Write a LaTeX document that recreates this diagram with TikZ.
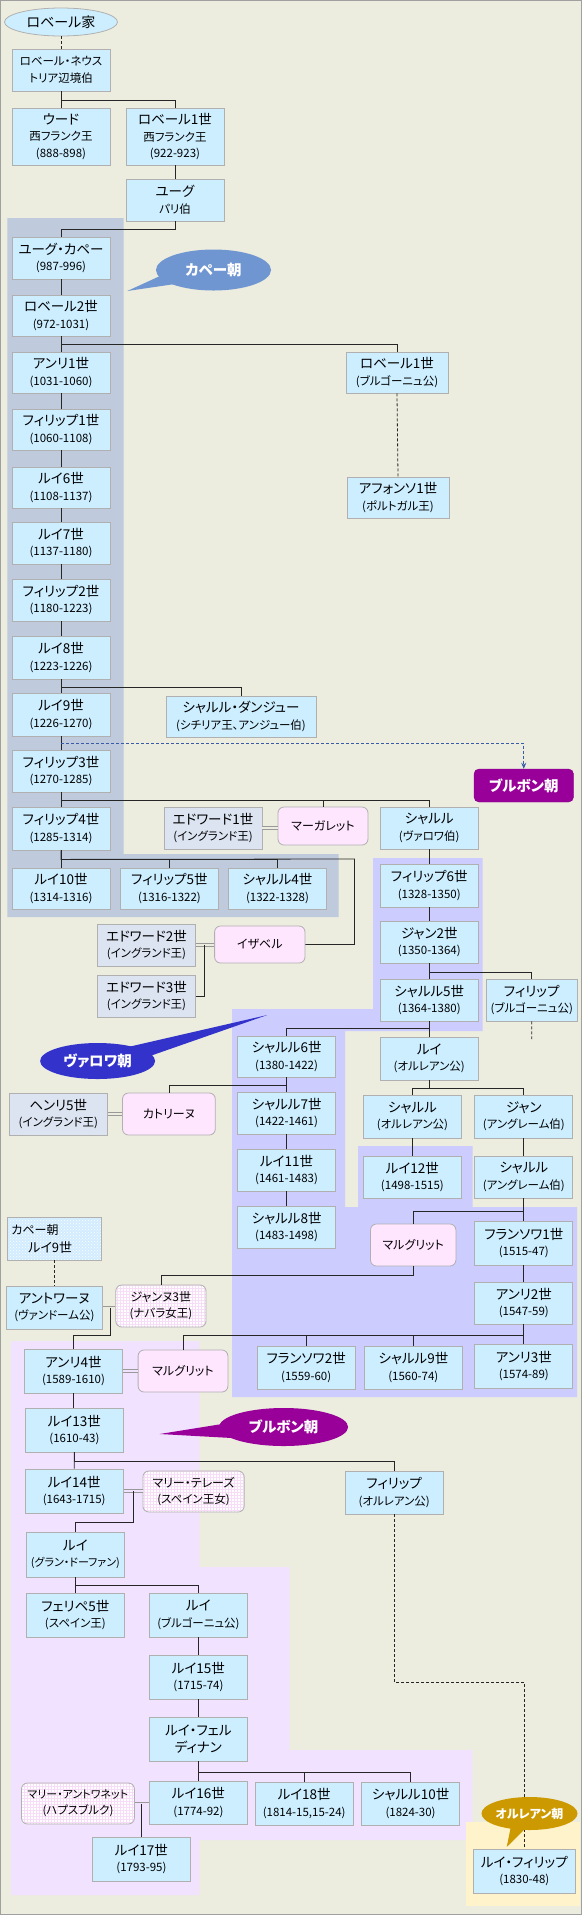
\documentclass[tikz,border=0pt]{standalone}
\usepackage{fontspec}
\setmainfont{Noto Sans CJK JP}[RawFeature=+palt]
\usetikzlibrary{shapes.geometric,arrows.meta,patterns}
\definecolor{bgc}{HTML}{ECECDF}
\definecolor{boxfill}{HTML}{CCEEFF}
\definecolor{boxline}{HTML}{B0B0B0}
\definecolor{engfill}{HTML}{DCE4F2}
\definecolor{wifefill}{HTML}{FFE6FF}
\definecolor{capetbg}{HTML}{BFCBDD}
\definecolor{valoisbg}{HTML}{CCCCFF}
\definecolor{bourbonbg}{HTML}{F1E3FF}
\definecolor{orleansbg}{HTML}{FFF3CC}
\definecolor{capetblue}{HTML}{7096D2}
\definecolor{valoisblue}{HTML}{3333CC}
\definecolor{bourbonc}{HTML}{990099}
\definecolor{orleansc}{HTML}{CC9900}
\definecolor{arrowblue}{HTML}{3A5CA8}
\definecolor{cpatfill}{HTML}{D2ECFF}
\definecolor{gridpink}{HTML}{F7DDF7}
\definecolor{framec}{HTML}{A0A0A0}
\newcommand\ssz{\fontsize{11.5}{16}\selectfont}
\newcommand\nd[7]{\pgfmathsetmacro\ndcx{(#3+#5)/2}\pgfmathsetmacro\ndcy{(#4+#6)/2}\pgfmathsetmacro\ndw{#5-#3}\pgfmathsetmacro\ndh{#6-#4}\node[#1,minimum width=\ndw pt,minimum height=\ndh pt] (#2) at (\ndcx,\ndcy) {#7};}
\begin{document}
\begin{tikzpicture}[x=1pt,y=-1pt,
  pb/.style={draw=boxline,fill=boxfill,line width=0.8pt,inner sep=0pt,align=center,font=\fontsize{13.5}{16.5}\selectfont},
  eng/.style={pb,fill=engfill},
  wife/.style={pb,fill=wifefill,rounded corners=6pt,font=\fontsize{12}{16}\selectfont},
  wifeg/.style={draw=boxline,line width=0.8pt,inner sep=0pt,align=center,rounded corners=6pt,font=\fontsize{12}{16}\selectfont,preaction={fill=white},pattern=grid,pattern color=gridpink},
  cpat/.style={draw=boxline,line width=0.8pt,inner xsep=4pt,inner ysep=0pt,align=left,text width=86pt,font=\fontsize{13}{18}\selectfont,preaction={fill=cpatfill},pattern=crosshatch dots,pattern color=white},
  dynbox/.style={fill=bourbonc,draw=bourbonc!85!black,rounded corners=5pt,inner sep=0pt,text=white,font=\bfseries\fontsize{14.5}{16}\selectfont},
  bubble/.style={ellipse,inner sep=0pt,text=white,font=\bfseries\fontsize{14.5}{16}\selectfont},
  tl/.style={draw=black!85,line width=0.8pt},
  dl/.style={draw=black!85,line width=0.8pt,dash pattern=on 3pt off 2pt},
  bdash/.style={draw=arrowblue,line width=0.8pt,dash pattern=on 3pt off 2pt,-{Stealth[length=6pt,width=5pt]}},
  marr/.style={draw=black!40,line width=0.7pt,double distance=2pt,double=bgc}]
\useasboundingbox (0,0) rectangle (582,1915);
\fill[bgc] (0,0) rectangle (582,1915);
% regions
\fill[capetbg] (7.4,218) -- (123.6,218) -- (123.6,854) -- (338.5,854) -- (338.5,917) -- (7.4,917) -- cycle;
\fill[valoisbg] (373.1,858) -- (482.6,858) -- (482.6,1031) -- (345.2,1031) -- (345.2,1207) -- (358.2,1207) -- (358.2,1146) -- (472.6,1146) -- (472.6,1207) -- (577.2,1207) -- (577.2,1397) -- (232,1397) -- (232,1009) -- (373.1,1009) -- cycle;
\fill[bourbonbg] (11.1,1341) -- (199.3,1341) -- (199.3,1567) -- (289.5,1567) -- (289.5,1750) -- (472.6,1750) -- (472.6,1840) -- (199.3,1840) -- (199.3,1895) -- (11.1,1895) -- cycle;
\fill[orleansbg] (465.9,1822) rectangle (580,1906);
% nodes
\node[ellipse,draw=boxline,fill=boxfill,line width=0.8pt,minimum width=113pt,minimum height=28pt,inner sep=0pt,font=\fontsize{14}{16}\selectfont] (house) at (61,22) {ロベール家};
\nd{pb}{rn}{12}{49}{110}{91}{\ssz ロベール・ネウス\\\ssz トリア辺境伯}
\nd{pb}{ud}{12}{108}{110}{165}{ウード\\\ssz 西フランク王\\\ssz (888-898)}
\nd{pb}{rf}{126}{108}{224}{165}{ロベール1世\\\ssz 西フランク王\\\ssz (922-923)}
\nd{pb}{hg}{126}{179}{224}{221}{ユーグ\\\ssz パリ伯}
\nd{pb}{hc}{12}{237}{110}{279}{ユーグ・カペー\\\ssz (987-996)}
\nd{pb}{r2}{12}{295}{110}{336}{ロベール2世\\\ssz (972-1031)}
\nd{pb}{h1}{12}{352}{110}{393}{アンリ1世\\\ssz (1031-1060)}
\nd{pb}{rb}{346}{352}{448}{393}{ロベール1世\\\ssz (ブルゴーニュ公)}
\nd{pb}{p1}{12}{409}{110}{450}{フィリップ1世\\\ssz (1060-1108)}
\nd{pb}{l6}{12}{467}{110}{508}{ルイ6世\\\ssz (1108-1137)}
\nd{pb}{af}{347}{477}{449}{518}{アフォンソ1世\\\ssz (ポルトガル王)}
\nd{pb}{l7}{12}{522}{110}{564}{ルイ7世\\\ssz (1137-1180)}
\nd{pb}{p2}{12}{579}{110}{621}{フィリップ2世\\\ssz (1180-1223)}
\nd{pb}{l8}{12}{636}{110}{679}{ルイ8世\\\ssz (1223-1226)}
\nd{pb}{l9}{12}{693}{110}{736}{ルイ9世\\\ssz (1226-1270)}
\nd{pb}{cd}{166}{696}{316}{737}{シャルル・ダンジュー\\\ssz (シチリア王、アンジュー伯)}
\nd{pb}{p3}{12}{750}{110}{792}{フィリップ3世\\\ssz (1270-1285)}
\nd{dynbox}{bb}{474}{769}{573.5}{802}{ブルボン朝}
\nd{pb}{p4}{12}{807}{110}{850}{フィリップ4世\\\ssz (1285-1314)}
\nd{eng}{e1}{164}{807}{262}{849}{エドワード1世\\\ssz (イングランド王)}
\nd{wife}{mg1}{278}{807}{368}{845}{マーガレット}
\nd{pb}{cv}{380}{807}{478.5}{849}{シャルル\\\ssz (ヴァロワ伯)}
\nd{pb}{l10}{12}{868}{110}{909}{ルイ10世\\\ssz (1314-1316)}
\nd{pb}{p5}{120.6}{868}{218.3}{909}{フィリップ5世\\\ssz (1316-1322)}
\nd{pb}{c4}{228.7}{868}{326.3}{909}{シャルル4世\\\ssz (1322-1328)}
\nd{pb}{p6}{380}{864}{478.5}{907}{フィリップ6世\\\ssz (1328-1350)}
\nd{eng}{e2}{97.3}{924}{195.6}{966}{エドワード2世\\\ssz (イングランド王)}
\nd{wife}{is}{214.6}{926}{305}{963}{イザベル}
\nd{pb}{j2}{380}{921}{478.5}{963}{ジャン2世\\\ssz (1350-1364)}
\nd{eng}{e3}{97.3}{975}{195.6}{1017}{エドワード3世\\\ssz (イングランド王)}
\nd{pb}{c5}{380}{979}{478.5}{1021}{シャルル5世\\\ssz (1364-1380)}
\nd{pb}{pbg}{486.3}{979}{577.2}{1021}{フィリップ\\\ssz (ブルゴーニュ公)}
\nd{pb}{c6}{237.6}{1036}{335.6}{1077}{シャルル6世\\\ssz (1380-1422)}
\nd{pb}{lo}{380}{1037}{478.5}{1080}{ルイ\\\ssz (オルレアン公)}
\nd{eng}{h5}{9.3}{1093}{107.3}{1135}{ヘンリ5世\\\ssz (イングランド王)}
\nd{wife}{ct}{122.5}{1093}{215.3}{1135}{カトリーヌ}
\nd{pb}{c7}{237.6}{1092}{335.6}{1134}{シャルル7世\\\ssz (1422-1461)}
\nd{pb}{so}{363.4}{1095}{461.4}{1138}{シャルル\\\ssz (オルレアン公)}
\nd{pb}{ja}{474.8}{1095}{572.8}{1138}{ジャン\\\ssz (アングレーム伯)}
\nd{pb}{l11}{237.6}{1149}{335.6}{1191}{ルイ11世\\\ssz (1461-1483)}
\nd{pb}{l12}{363.4}{1156}{461.4}{1198}{ルイ12世\\\ssz (1498-1515)}
\nd{pb}{ca}{474.8}{1156}{572.8}{1198}{シャルル\\\ssz (アングレーム伯)}
\nd{pb}{c8}{237.6}{1206}{335.6}{1248}{シャルル8世\\\ssz (1483-1498)}
\nd{cpat}{cl9}{7.4}{1217}{101.3}{1260}{{\fontsize{12}{18}\selectfont カペー朝}\\\hspace*{17pt}ルイ9世}
\nd{wife}{mg2}{370.5}{1224}{455.9}{1266}{マルグリット}
\nd{pb}{f1}{474.8}{1221}{572.8}{1265}{フランソワ1世\\\ssz (1515-47)}
\nd{pb}{an}{5.9}{1286}{102.8}{1329}{アントワーヌ\\\ssz (ヴァンドーム公)}
\nd{wifeg}{jn}{115.8}{1285}{206}{1327}{ジャンヌ3世\\\ssz (ナバラ女王)}
\nd{pb}{h2}{474.8}{1282}{572.8}{1324}{アンリ2世\\\ssz (1547-59)}
\nd{pb}{f2}{257.2}{1346}{355.2}{1389}{フランソワ2世\\\ssz (1559-60)}
\nd{pb}{c9}{364.5}{1346}{462.2}{1389}{シャルル9世\\\ssz (1560-74)}
\nd{pb}{h3}{474.8}{1344}{572.8}{1388}{アンリ3世\\\ssz (1574-89)}
\nd{pb}{h4}{24.5}{1349}{122.5}{1393}{アンリ4世\\\ssz (1589-1610)}
\nd{wife}{mg3}{138.1}{1350}{227.9}{1392}{マルグリット}
\nd{pb}{l13}{25.2}{1408}{123.6}{1452}{ルイ13世\\\ssz (1610-43)}
\nd{pb}{l14}{25.2}{1469}{123.2}{1513}{ルイ14世\\\ssz (1643-1715)}
\nd{wifeg}{mt}{142.9}{1471}{244.2}{1512}{マリー・テレーズ\\\ssz (スペイン王女)}
\nd{pb}{po}{345.2}{1471}{443.2}{1514}{フィリップ\\\ssz (オルレアン公)}
\nd{pb}{gd}{26.4}{1532}{124.4}{1577}{ルイ\\\fontsize{11}{16}\selectfont (グラン・ドーファン)}
\nd{pb}{f5}{26.4}{1593}{124.4}{1637}{フェリペ5世\\\ssz (スペイン王)}
\nd{pb}{lb}{149.2}{1593}{247.6}{1637}{ルイ\\\ssz (ブルゴーニュ公)}
\nd{pb}{l15}{149.2}{1655}{247.6}{1699}{ルイ15世\\\ssz (1715-74)}
\nd{pb}{lf}{149.2}{1717}{247.6}{1761}{ルイ・フェル\\ディナン}
\nd{pb}{l16}{149.2}{1781}{247.6}{1824}{ルイ16世\\\ssz (1774-92)}
\nd{pb}{l18}{255.4}{1782}{353}{1825}{ルイ18世\\\ssz (1814-15,15-24)}
\nd{pb}{c10}{361.6}{1782}{459.6}{1825}{シャルル10世\\\ssz (1824-30)}
\nd{wifeg}{ma}{21.5}{1783}{134.4}{1824}{\fontsize{11}{16}\selectfont マリー・アントワネット\\\ssz (ハプスブルク)}
\nd{pb}{l17}{92.4}{1837}{190.4}{1881}{ルイ17世\\\ssz (1793-95)}
\nd{pb}{lp}{473.3}{1849}{575.4}{1893}{ルイ・フィリップ\\\ssz (1830-48)}
% connectors
\draw[dl] (house.south) -- (rn.north);
\draw[tl] (rn.south) -- (ud.north);
\draw[tl] (rn.south) -- ++(0,9) -| (rf.north);
\draw[tl] (rf.south) -- (hg.north);
\draw[tl] (hg.south) -- ++(0,8) -| (hc.north);
\draw[tl] (hc.south) -- (r2.north);
\draw[tl] (r2.south) -- (h1.north);
\draw[tl] (r2.south) -- ++(0,8) -| (rb.north);
\draw[dl] (rb.south) -- (af.north);
\draw[tl] (h1.south) -- (p1.north);
\draw[tl] (p1.south) -- (l6.north);
\draw[tl] (l6.south) -- (l7.north);
\draw[tl] (l7.south) -- (p2.north);
\draw[tl] (p2.south) -- (l8.north);
\draw[tl] (l8.south) -- (l9.north);
\draw[tl] (l8.south) -- ++(0,8) -| (cd.north);
\draw[tl] (l9.south) -- (p3.north);
\draw[bdash] (l9.south) ++(0,7) -| (bb.north);
\draw[tl] (p3.south) -- (p4.north);
\draw[tl] (p3.south) -- ++(0,8) -| (mg1.north);
\draw[tl] (p3.south) -- ++(0,8) -| (cv.north);
\draw[marr] (e1.east) -- (e1.east -| mg1.west);
\draw[tl] (p4.south) -- (l10.north);
\draw[tl] (p4.south) -- ++(0,9) -| (p5.north);
\draw[tl] (p4.south) -- ++(0,9) -| (c4.north);
\coordinate (isj) at (354.5,859);
\draw[tl] (p4.south) -- ++(0,9) -- (isj) |- (is.east);
\draw[marr] (e2.east) -- coordinate[pos=0.45] (m2) (e2.east -| is.west);
\draw[tl] (m2) |- (e3.east);
\draw[tl] (cv.south) -- (p6.north);
\draw[tl] (p6.south) -- (j2.north);
\draw[tl] (j2.south) -- (c5.north);
\draw[tl] (j2.south) -- ++(0,9) -| (pbg.north);
\coordinate (pbgend) at (531.7,1039);
\draw[dl] (pbg.south) -- (pbgend);
\draw[tl] (c5.south) -- (lo.north);
\draw[tl] (c5.south) -- ++(0,7) -| (c6.north);
\draw[tl] (c6.south) -- (c7.north);
\draw[tl] (c6.south) -- ++(0,8) -| (ct.north);
\draw[marr] (h5.east) -- (h5.east -| ct.west);
\draw[tl] (c7.south) -- (l11.north);
\draw[tl] (l11.south) -- (c8.north);
\draw[tl] (lo.south) -- ++(0,8) -| (so.north);
\draw[tl] (lo.south) -- ++(0,8) -| (ja.north);
\draw[tl] (so.south) -- (l12.north);
\draw[tl] (ja.south) -- (ca.north);
\draw[tl] (ca.south) -- (f1.north);
\draw[tl] (ca.south) -- ++(0,13) -| (mg2.north);
\draw[tl] (mg2.south) -- ++(0,9) -| (jn.north);
\draw[tl] (f1.south) -- (h2.north);
\draw[tl] (h2.south) -- (h3.north);
\draw[tl] (h2.south) -- ++(0,11) -| (c9.north);
\draw[tl] (h2.south) -- ++(0,11) -| (f2.north);
\draw[tl] (h2.south) -- ++(0,11) -| (mg3.north);
\draw[dl] (cl9.south) -- (an.north);
\draw[marr] (an.east) -- coordinate[pos=0.6] (m3) (an.east -| jn.west);
\draw[tl] (m3) -- ++(0,28) -| (h4.north);
\draw[marr,double=bourbonbg] (h4.east) -- (h4.east -| mg3.west);
\draw[tl] (h4.south) -- (h4.south |- l13.north);
\draw[tl] (l13.south) -- (l14.north);
\draw[tl] (l13.south) -- ++(0,9) -| (po.north);
\draw[marr,double=bourbonbg] (l14.east) -- coordinate[pos=0.5] (m4) (l14.east -| mt.west);
\draw[tl] (m4) -- ++(0,31) -| (gd.north);
\draw[dl] (po.south) -- ++(0,168) -| (lp.north);
\draw[tl] (gd.south) -- (f5.north);
\draw[tl] (gd.south) -- ++(0,8) -| (lb.north);
\draw[tl] (lb.south) -- (l15.north);
\draw[tl] (l15.south) -- (lf.north);
\draw[tl] (lf.south) -- (l16.north);
\draw[tl] (lf.south) -- ++(0,11) -| (l18.north);
\draw[tl] (lf.south) -- ++(0,11) -| (c10.north);
\draw[marr,double=bourbonbg] (ma.east) -- coordinate[pos=0.5] (m5) (ma.east -| l16.west);
\draw[tl] (m5) -- (m5 |- l17.north);
% bubbles
\fill[capetblue] (127.3,291) -- (160,276) -- (175,284) -- cycle;
\node[bubble,fill=capetblue,minimum width=115pt,minimum height=41pt] (capb) at (213.5,270) {カペー朝};
\fill[valoisblue] (267.3,1015) -- (128,1047) -- (150,1056) -- cycle;
\node[bubble,fill=valoisblue,minimum width=115pt,minimum height=36pt] (valb) at (97.6,1061) {ヴァロワ朝};
\fill[bourbonc] (159.6,1434) -- (222,1424) -- (232,1438) -- cycle;
\node[bubble,fill=bourbonc,minimum width=129pt,minimum height=38pt] (bourb) at (283.6,1427) {ブルボン朝};
\fill[orleansc] (506.7,1847) -- (511,1826) -- (528,1826) -- cycle;
\node[bubble,fill=orleansc,minimum width=96pt,minimum height=33pt,font=\bfseries\fontsize{12}{14}\selectfont] (orlb) at (529.5,1813.5) {オルレアン朝};
\draw[framec,line width=1pt] (0.5,0.5) rectangle (581.5,1914.5);
\end{tikzpicture}
\end{document}
